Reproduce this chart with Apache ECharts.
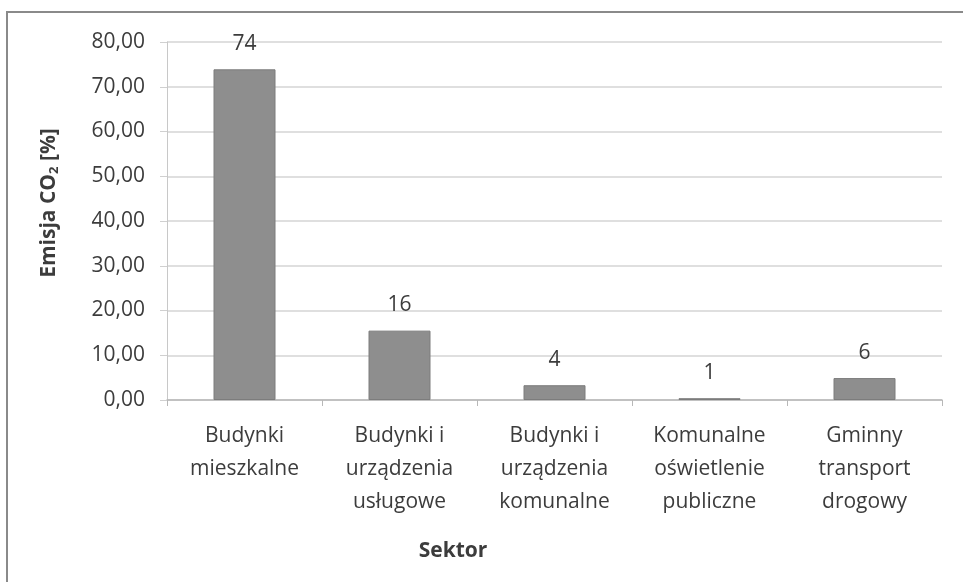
<!DOCTYPE html>
<html>
<head>
<meta charset="utf-8">
<script src="https://cdn.jsdelivr.net/npm/echarts@6/dist/echarts.min.js"></script>
<style>
  html, body { margin: 0; padding: 0; background: #fff; }
  #chart { width: 963px; height: 582px; }
</style>
</head>
<body>
<div id="chart"></div>
<script>
// sektory
var categories = [
  'Budynki\nmieszkalne',
  'Budynki i\nurządzenia\nusługowe',
  'Budynki i\nurządzenia\nkomunalne',
  'Komunalne\noświetlenie\npubliczne',
  'Gminny\ntransport\ndrogowy'
];
// wysokosci slupkow
var values = [73.9, 15.5, 3.3, 0.4, 4.9];
// etykiety nad slupkami
var valueLabels = ['74', '16', '4', '1', '6'];
var yTickLabels = ['0,00', '10,00', '20,00', '30,00', '40,00', '50,00', '60,00', '70,00', '80,00'];

var textColor = '#3c3c3c';
var font = '"Open Sans", sans-serif';

var chart = echarts.init(document.getElementById('chart'));
chart.setOption({
  backgroundColor: '#fff',
  animation: false,
  grid: { left: 167, right: 21, top: 42, bottom: 182 },
  xAxis: {
    type: 'category',
    data: categories,
    axisLine: { lineStyle: { color: '#b8b8b8', width: 1.5 } },
    axisTick: { show: true, length: 6, lineStyle: { color: '#b8b8b8' } },
    axisLabel: {
      color: textColor, fontFamily: font, fontSize: 21,
      lineHeight: 33, margin: 20, interval: 0
    }
  },
  yAxis: {
    type: 'value',
    min: 0, max: 80, interval: 10,
    axisLine: { show: true, lineStyle: { color: '#c8c8c8' } },
    axisTick: { show: true, length: 7, lineStyle: { color: '#d0d0d0' } },
    splitLine: { lineStyle: { color: '#d4d4d4', width: 1.5 } },
    axisLabel: {
      color: textColor, fontFamily: font, fontSize: 21, margin: 22,
      formatter: function (v) { return yTickLabels[Math.round(v / 10)]; }
    }
  },
  series: [{
    type: 'bar',
    data: values,
    barWidth: '40%',
    itemStyle: { color: '#8e8e8e', borderColor: '#7c7c7c', borderWidth: 1 },
    label: {
      show: true, position: 'top', distance: 15,
      color: textColor, fontFamily: font, fontSize: 21,
      formatter: function (p) { return valueLabels[p.dataIndex]; }
    }
  }],
  graphic: [
    {
      type: 'polyline', silent: true,
      shape: { points: [[7, 582], [7, 12], [963, 12]] },
      style: { stroke: '#8a8a8a', lineWidth: 2, fill: null }
    },
    {
      type: 'text', x: 453, y: 551,
      style: {
        text: 'Sektor', fill: textColor, font: 'bold 21px "Open Sans", sans-serif',
        align: 'center', verticalAlign: 'middle'
      }
    },
    {
      type: 'text', x: 49, y: 203, rotation: Math.PI / 2,
      style: {
        text: 'Emisja CO{s|2} [%]', fill: textColor,
        font: 'bold 21px "Open Sans", sans-serif',
        align: 'center', verticalAlign: 'middle',
        rich: {
          s: { fontSize: 13, fontWeight: 'bold', fontFamily: font, fill: textColor, padding: [10, 0, 0, 0] }
        }
      }
    }
  ]
});
</script>
</body>
</html>
